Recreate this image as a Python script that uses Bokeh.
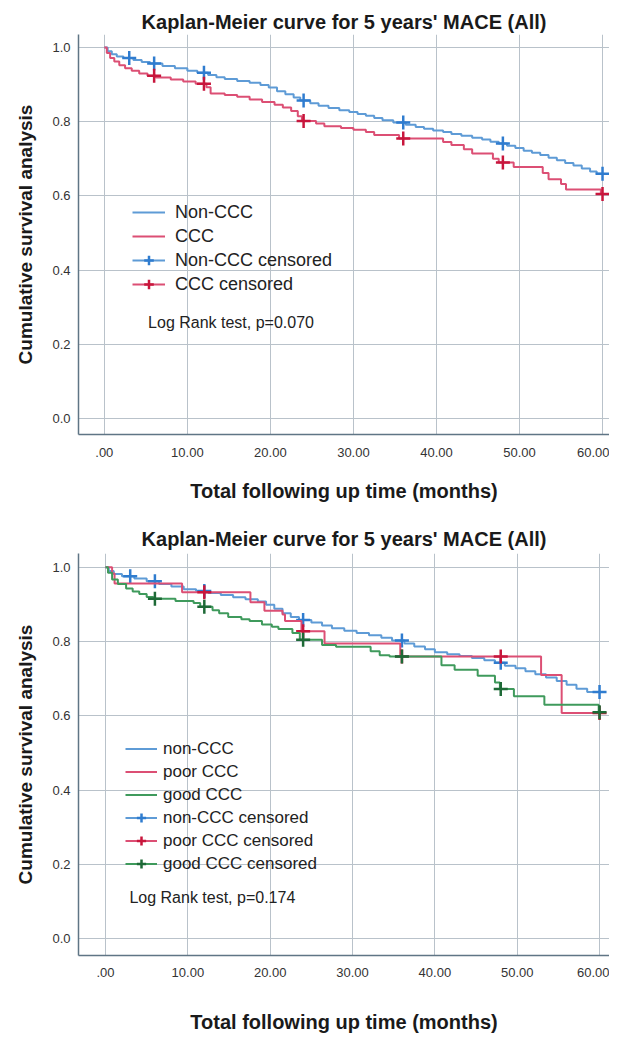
from bokeh.plotting import figure
from bokeh.layouts import column
from bokeh.models import (ColumnDataSource, Legend, LegendItem, Label, FixedTicker,
                          CustomJSTickFormatter, Range1d)
from bokeh.embed import file_html
from bokeh.resources import INLINE

# ---------------- data ----------------
x_ticks = [0, 10, 20, 30, 40, 50, 60]
y_ticks = [0.0, 0.2, 0.4, 0.6, 0.8, 1.0]

title_text = "Kaplan-Meier curve for 5 years' MACE (All)"
x_title = "Total following up time (months)"
y_title = "Cumulative survival analysis"

# top chart
top_non_t = [0, 0.4, 0.9, 1.5, 2.3, 3.5, 4.5, 5.5, 7, 8.5, 10, 11.2, 12.5, 13.5, 14.5, 16, 17.5, 18.8, 19.8,
             20.8, 21.8, 22.8, 23.6, 24.8, 25.8, 27, 28.3, 29.5, 30.5, 31.5, 32.5, 33.5, 34.8, 36.3, 37.5,
             38.5, 39.6, 40.8, 41.8, 43, 44.3, 45.5, 46.5, 47.5, 48.5, 49.5, 50.5, 51.5, 52.5, 53.5, 54.5,
             55.5, 56.5, 57.5, 58.5, 59.3, 60]
top_non_s = [1.0, 0.99, 0.982, 0.976, 0.972, 0.966, 0.961, 0.957, 0.950, 0.944, 0.937, 0.932, 0.926, 0.920,
             0.915, 0.910, 0.905, 0.899, 0.892, 0.882, 0.874, 0.865, 0.857, 0.850, 0.843, 0.837, 0.831, 0.826,
             0.821, 0.816, 0.810, 0.804, 0.798, 0.792, 0.786, 0.781, 0.776, 0.772, 0.767, 0.762, 0.757, 0.752,
             0.746, 0.741, 0.735, 0.729, 0.722, 0.716, 0.710, 0.703, 0.696, 0.689, 0.682, 0.674, 0.666, 0.660,
             0.660]
top_non_cens_t = [3, 6, 12, 24, 36, 48, 60]
top_non_cens_s = [0.972, 0.957, 0.932, 0.857, 0.798, 0.741, 0.660]

top_ccc_t = [0, 0.3, 0.7, 1.2, 1.8, 2.5, 3.3, 4.2, 5.2, 6.2, 8, 9.5, 11, 12.3, 12.8, 14.5, 16, 17.5, 19,
             20.5, 21.5, 22.5, 23.3, 23.8, 25.5, 26.5, 28.5, 30, 31.5, 32.5, 35.5, 40.8, 41.8, 43.3, 44.3,
             46.8, 47.5, 49.3, 52.8, 53.5, 55, 55.6, 59.8, 60]
top_ccc_s = [1.0, 0.985, 0.972, 0.962, 0.952, 0.944, 0.937, 0.930, 0.924, 0.919, 0.914, 0.908, 0.902, 0.893,
             0.876, 0.872, 0.867, 0.860, 0.853, 0.846, 0.838, 0.829, 0.815, 0.802, 0.795, 0.788, 0.783, 0.778,
             0.772, 0.764, 0.755, 0.745, 0.737, 0.726, 0.714, 0.700, 0.690, 0.678, 0.662, 0.645, 0.632, 0.617,
             0.605, 0.605]
top_ccc_cens_t = [6, 12, 24, 36, 48, 60]
top_ccc_cens_s = [0.924, 0.902, 0.802, 0.755, 0.690, 0.605]

# bottom chart
bot_non_t = [0, 0.4, 1, 2, 3.5, 5, 6.5, 8, 9.5, 11, 12.5, 14, 15.5, 17, 18.5, 19.5, 20.5, 21.5, 22.5, 23.5,
             25, 26.3, 27.5, 29, 30.5, 32, 33.5, 34.8, 36.3, 37.5, 38.8, 40, 41.5, 43, 44.5, 46, 47.3, 48.5,
             49.8, 51, 52.2, 53.5, 54.8, 56, 57.2, 58.5, 60]
bot_non_s = [1.0, 0.99, 0.982, 0.976, 0.970, 0.962, 0.955, 0.948, 0.941, 0.936, 0.931, 0.925, 0.919, 0.914,
             0.908, 0.899, 0.888, 0.876, 0.866, 0.858, 0.851, 0.843, 0.836, 0.829, 0.823, 0.817, 0.810, 0.803,
             0.795, 0.787, 0.779, 0.771, 0.766, 0.761, 0.756, 0.750, 0.743, 0.735, 0.728, 0.720, 0.712, 0.703,
             0.694, 0.684, 0.673, 0.664, 0.664]
bot_non_cens_t = [3, 6, 12, 24, 36, 48, 60]
bot_non_cens_s = [0.976, 0.962, 0.936, 0.858, 0.803, 0.743, 0.664]

bot_poor_t = [0, 0.8, 1.1, 9.3, 17.6, 19.3, 21.5, 21.8, 23.8, 26.6, 35.8, 52.9, 55.4, 60]
bot_poor_s = [1.0, 0.983, 0.956, 0.933, 0.906, 0.883, 0.873, 0.855, 0.828, 0.795, 0.760, 0.710, 0.608, 0.608]
bot_poor_cens_t = [12, 24, 36, 48, 60]
bot_poor_cens_s = [0.933, 0.828, 0.760, 0.760, 0.608]

bot_good_t = [0, 0.3, 0.8, 1.5, 2.5, 3.3, 4.1, 5, 5.8, 8.5, 10.7, 11.5, 13, 13.8, 14.9, 16.5, 17.5, 19, 20.2,
              21, 22.7, 23.6, 26.3, 28, 32.2, 33.3, 34.5, 40.8, 42.4, 45.2, 47.3, 47.9, 49.6, 53.3, 59.9, 60]
bot_good_s = [1.0, 0.985, 0.967, 0.955, 0.943, 0.935, 0.928, 0.920, 0.915, 0.909, 0.904, 0.894, 0.884, 0.876,
              0.866, 0.860, 0.855, 0.846, 0.840, 0.834, 0.823, 0.805, 0.791, 0.786, 0.774, 0.763, 0.760, 0.736,
              0.724, 0.708, 0.690, 0.672, 0.653, 0.630, 0.610, 0.610]
bot_good_cens_t = [6, 12, 24, 36, 48, 60]
bot_good_cens_s = [0.915, 0.894, 0.805, 0.760, 0.672, 0.610]

top_series = ["Non-CCC", "CCC"]
bot_series = ["non-CCC", "poor CCC", "good CCC"]
top_note = "Log Rank test, p=0.070"
bot_note = "Log Rank test, p=0.174"

# ---------------- style ----------------
FONT = "Liberation Sans"
BLUE_L, BLUE_M = "#5e9bd6", "#2f7ccf"
RED_L, RED_M = "#dc4f74", "#c8163c"
GREEN_L, GREEN_M = "#3f9a5c", "#1e6a37"
GRID = "#b9c2ca"
AXIS = "#5f7585"
NAN = float("nan")


def base_fig(height, xr, yr, border_top, border_bottom, border_left, title_standoff,
             tick_standoff_x, label_standoff_x):
    p = figure(width=609, height=height, x_range=Range1d(*xr), y_range=Range1d(*yr),
               output_backend="svg", toolbar_location=None, title=title_text,
               min_border_left=border_left, min_border_right=0, min_border_top=border_top,
               min_border_bottom=border_bottom)
    p.title.text_font = FONT
    p.title.text_font_size = "20px"
    p.title.text_font_style = "bold"
    p.title.text_color = "#1a1a1a"
    p.title.align = "center"
    p.title.standoff = title_standoff
    p.outline_line_color = None
    p.background_fill_color = "white"
    p.border_fill_color = "white"

    xt = FixedTicker(ticks=x_ticks)
    yt = FixedTicker(ticks=y_ticks)
    p.xaxis.ticker = xt
    p.yaxis.ticker = yt
    p.xgrid.ticker = xt
    p.ygrid.ticker = yt
    p.xaxis.formatter = CustomJSTickFormatter(
        code="var s = tick.toFixed(2); return s.charAt(0) === '0' ? s.slice(1) : s;")
    p.yaxis.formatter = CustomJSTickFormatter(code="return tick.toFixed(1);")
    for ax in (p.xaxis, p.yaxis):
        ax.major_tick_line_color = None
        ax.minor_tick_line_color = None
        ax.major_tick_out = 0
        ax.major_tick_in = 0
        ax.axis_line_color = AXIS
        ax.axis_line_width = 1.5
        ax.major_label_text_font = FONT
        ax.major_label_text_font_size = "13px"
        ax.major_label_text_color = "#333333"
        ax.axis_label_text_font = FONT
        ax.axis_label_text_font_style = "bold"
        ax.axis_label_text_color = "#1a1a1a"
    p.xaxis.axis_label_text_font_size = "20px"
    p.yaxis.axis_label_text_font_size = "19px"
    p.xaxis.axis_label = x_title
    p.yaxis.axis_label = y_title
    p.xaxis.major_label_standoff = tick_standoff_x
    p.xaxis.axis_label_standoff = label_standoff_x
    p.yaxis.major_label_standoff = 8
    p.yaxis.axis_label_standoff = 13
    for g in (p.xgrid, p.ygrid):
        g.grid_line_color = GRID
        g.grid_line_width = 1
    return p


def add_group(p, t, s, ct, cs, lcol, mcol):
    step = p.step(x="t", y="s", source=ColumnDataSource(dict(t=t, s=s)), mode="after",
                  line_color=lcol, line_width=2)
    dummy = p.line(x="t", y="s", source=ColumnDataSource(dict(t=[NAN], s=[NAN])), line_color=lcol,
                   line_width=2)
    marks = p.scatter(x="t", y="s", source=ColumnDataSource(dict(t=ct, s=cs)), marker="cross",
                      size=14, line_color=mcol, line_width=2.5)
    return step, dummy, marks


def style_legend(items, loc, font_size, glyph_w, glyph_h, standoff):
    return Legend(items=items, location=loc, border_line_color=None, background_fill_alpha=0,
                  padding=0, margin=0, label_text_font=FONT, label_text_font_size=font_size,
                  label_text_color="#222222", glyph_width=glyph_w, glyph_height=glyph_h,
                  label_height=glyph_h, spacing=0, label_standoff=standoff)


# ---------------- top chart ----------------
p1 = base_fig(508, (-3.11, 60.84), (-0.043, 1.035), 34, 74, 75, 4, 13, 20)
g1 = add_group(p1, top_non_t, top_non_s, top_non_cens_t, top_non_cens_s, BLUE_L, BLUE_M)
g2 = add_group(p1, top_ccc_t, top_ccc_s, top_ccc_cens_t, top_ccc_cens_s, RED_L, RED_M)
leg1 = style_legend([
    LegendItem(label=top_series[0], renderers=[g1[0]]),
    LegendItem(label=top_series[1], renderers=[g2[0]]),
    LegendItem(label=top_series[0] + " censored", renderers=[g1[1], g1[2]]),
    LegendItem(label=top_series[1] + " censored", renderers=[g2[1], g2[2]]),
], (54, 138), "18px", 33, 24, 10)
p1.add_layout(leg1)
p1.add_layout(Label(x=5.27, y=0.259, text=top_note, text_font=FONT, text_font_size="16px",
                    text_color="#222222", text_baseline="middle"))

# ---------------- bottom chart ----------------
p2 = base_fig(527, (-3.28, 61.21), (-0.045, 1.037), 45, 80, 78, 8, 12, 31)
h1 = add_group(p2, bot_non_t, bot_non_s, bot_non_cens_t, bot_non_cens_s, BLUE_L, BLUE_M)
h2 = add_group(p2, bot_poor_t, bot_poor_s, bot_poor_cens_t, bot_poor_cens_s, RED_L, RED_M)
h3 = add_group(p2, bot_good_t, bot_good_s, bot_good_cens_t, bot_good_cens_s, GREEN_L, GREEN_M)
leg2 = style_legend([
    LegendItem(label=bot_series[0], renderers=[h1[0]]),
    LegendItem(label=bot_series[1], renderers=[h2[0]]),
    LegendItem(label=bot_series[2], renderers=[h3[0]]),
    LegendItem(label=bot_series[0] + " censored", renderers=[h1[1], h1[2]]),
    LegendItem(label=bot_series[1] + " censored", renderers=[h2[1], h2[2]]),
    LegendItem(label=bot_series[2] + " censored", renderers=[h3[1], h3[2]]),
], (47, 80), "17px", 32, 23, 6)
p2.add_layout(leg2)
p2.add_layout(Label(x=2.9, y=0.111, text=bot_note, text_font=FONT, text_font_size="16px",
                    text_color="#222222", text_baseline="middle"))

layout = column(p1, p2, spacing=0)
open("out.html", "w").write(file_html(layout, INLINE))
